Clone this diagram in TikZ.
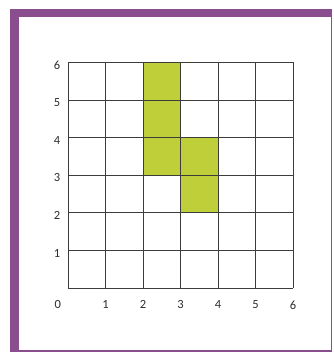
\documentclass[tikz,border=0pt]{standalone}
\usepackage{fontspec}
\setmainfont{Carlito}
\definecolor{framepurple}{RGB}{138,78,142}
\definecolor{cellgreen}{RGB}{190,207,58}
\definecolor{gridgray}{RGB}{60,60,60}
\begin{document}
\begin{tikzpicture}[x=1pt,y=1pt,
  axis label/.style={font=\fontsize{12.5}{14}\selectfont,text=gray!35!black,inner sep=0pt}]

  \useasboundingbox (0,0) rectangle (333,355);
  \fill[white] (0,0) rectangle (333,355);

  % frame
  \fill[framepurple] (10,3) rectangle (332,346);
  \fill[white] (19,5) rectangle (330.5,338);

  \begin{scope}[shift={(68,67)},x=37.5pt,y=37.6pt]
    % shaded cells
    \fill[cellgreen] (2,3) rectangle (3,6);
    \fill[cellgreen] (3,2) rectangle (4,4);
    \draw[gridgray,line width=0.6pt,step={(1,1)}] (0,0) grid (6,6);

    \node[axis label] (x0) at (-0.27,-0.45) {0};
    \foreach \i in {1,...,6}
      \node[axis label] (x\i) at (\i,-0.45) {\i};
    \foreach \i in {1,...,6}
      \node[axis label] (y\i) at (-0.29,\i-0.07) {\i};
  \end{scope}
\end{tikzpicture}
\end{document}
